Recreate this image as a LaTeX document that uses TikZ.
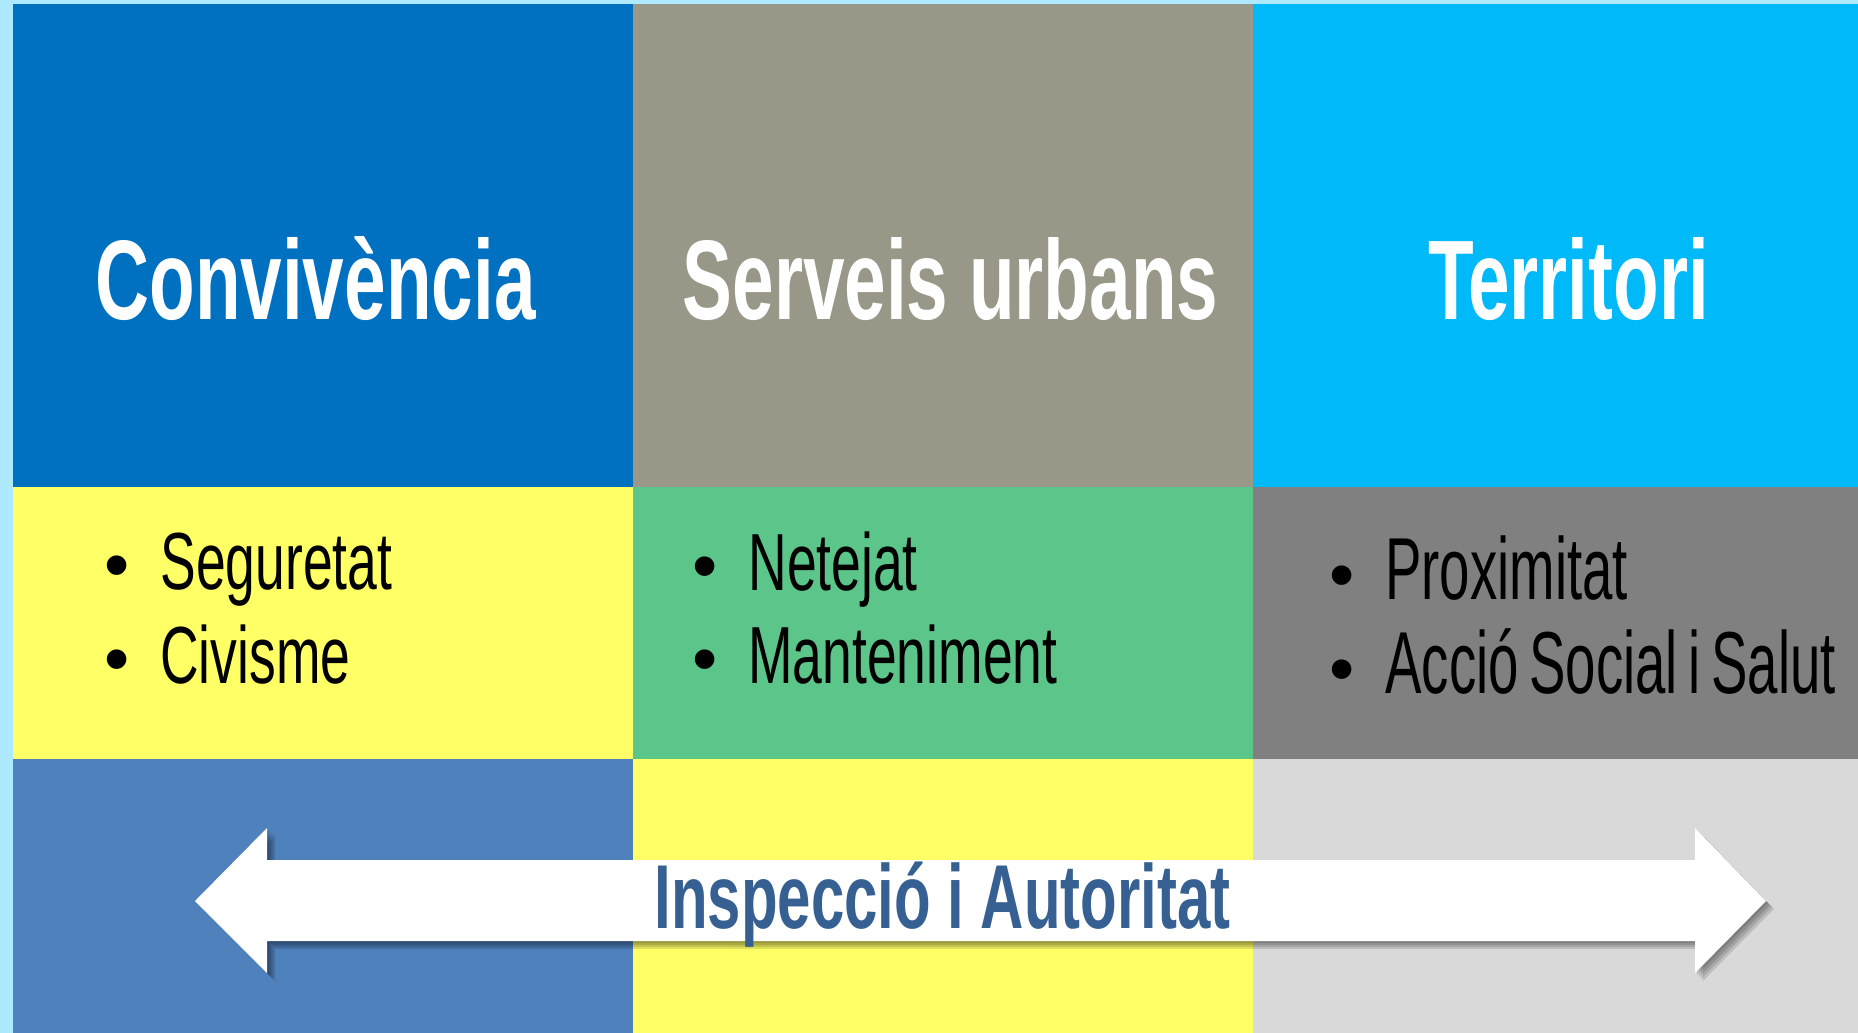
\documentclass[tikz,border=0pt]{standalone}
\usepackage{fontspec}
\usetikzlibrary{positioning, shadows}
\newfontfamily\agency{Liberation Sans}[FakeStretch=0.66]
\newfontfamily\agencynarrow{Liberation Sans}[FakeStretch=0.62, WordSpace=0.7]
\newfontfamily\bulletfont{Liberation Sans}
\definecolor{bg_cyan}{HTML}{ADE9FF}
\definecolor{conv_blue}{HTML}{0070C0}
\definecolor{serv_gray}{HTML}{999888}
\definecolor{terr_cyan}{HTML}{00B9F8}
\definecolor{item_yellow}{HTML}{FFFF66}
\definecolor{item_green}{HTML}{5CC589}
\definecolor{item_gray}{HTML}{808080}
\definecolor{foot_blue}{HTML}{4F81BD}
\definecolor{foot_gray}{HTML}{D9D9D9}
\definecolor{band_blue}{HTML}{366092}
\tikzset{
    header_cell/.style={rectangle, inner sep=0pt, outer sep=0pt, minimum height=241.5pt},
    item_cell/.style={rectangle, inner sep=0pt, outer sep=0pt, minimum height=136pt},
    footer_cell/.style={rectangle, inner sep=0pt, outer sep=0pt, minimum height=137pt},
    wide_col/.style={minimum width=310pt},
    last_col/.style={minimum width=302.5pt},
    title_text/.style={anchor=base, inner sep=0pt, text=white, font=\agency\bfseries\fontsize{56.6pt}{60pt}\selectfont},
    item_text/.style={anchor=base west, inner sep=0pt, text=black, font=\agency\fontsize{40.5pt}{44pt}\selectfont},
    big_item_text/.style={item_text, font=\agencynarrow\fontsize{44pt}{48pt}\selectfont},
    band_text/.style={anchor=base, inner sep=0pt, text=band_blue, font=\agency\bfseries\fontsize{45.4pt}{48pt}\selectfont},
    soft_shadow/.style={drop shadow={shadow xshift=#1, shadow yshift=-#1, fill=black, opacity=0.12}},
    band_arrow/.style={fill=white, soft_shadow=1pt, soft_shadow=2pt, soft_shadow=3pt, soft_shadow=4pt},
}
\newcommand{\itembullet}{\makebox[28pt][l]{\bulletfont\fontsize{36pt}{36pt}\selectfont\textbullet}}

\begin{document}
\begin{tikzpicture}[x=0.5pt, y=-0.5pt]
            \useasboundingbox (0,0) rectangle (1858,1033);
            \fill [bg_cyan] (0,0) rectangle (1858,1033);

            %%%%%%%%%%%
            % HEADERS %
            %%%%%%%%%%%
            \node (conv_head) [header_cell, wide_col, fill=conv_blue, anchor=north west] at (13,4) {};
            \node (serv_head) [header_cell, wide_col, fill=serv_gray, right = 0pt of conv_head] {};
            \node (terr_head) [header_cell, last_col, fill=terr_cyan, right = 0pt of serv_head] {};

            \node (conv_title) [title_text] at (315.5,319) {Convivència};
            \node (serv_title) [title_text] at (950.5,319) {Serveis urbans};
            \node (terr_title) [title_text] at (1568.5,319) {Territori};

            %%%%%%%%%
            % ITEMS %
            %%%%%%%%%
            \node (conv_items) [item_cell, wide_col, fill=item_yellow, below = 0pt of conv_head] {};
            \node (serv_items) [item_cell, wide_col, fill=item_green, below = 0pt of serv_head] {};
            \node (terr_items) [item_cell, last_col, fill=item_gray, below = 0pt of terr_head] {};

            \node (conv_item_1) [item_text] at (104,589) {\itembullet Seguretat};
            \node (conv_item_2) [item_text] at (104,683) {\itembullet Civisme};
            \node (serv_item_1) [item_text] at (692,590) {\itembullet Netejat};
            \node (serv_item_2) [item_text] at (692,683) {\itembullet Manteniment};
            \node (terr_item_1) [big_item_text] at (1329,599) {\itembullet Proximitat};
            \node (terr_item_2) [big_item_text] at (1329,693) {\itembullet Acció Social i Salut};

            %%%%%%%%%%
            % FOOTER %
            %%%%%%%%%%
            \node (conv_foot) [footer_cell, wide_col, fill=foot_blue, below = 0pt of conv_items] {};
            \node (serv_foot) [footer_cell, wide_col, fill=item_yellow, below = 0pt of serv_items] {};
            \node (terr_foot) [footer_cell, last_col, fill=foot_gray, below = 0pt of terr_items] {};

            \path [band_arrow] (195,901) -- (267,828) -- (267,860) -- (1695,860) -- (1695,828)
                -- (1766,901) -- (1695,973) -- (1695,941) -- (267,941) -- (267,973) -- cycle;
            \node (band_title) [band_text] at (942.5,928) {Inspecció i Autoritat};
      \end{tikzpicture}
\end{document}
